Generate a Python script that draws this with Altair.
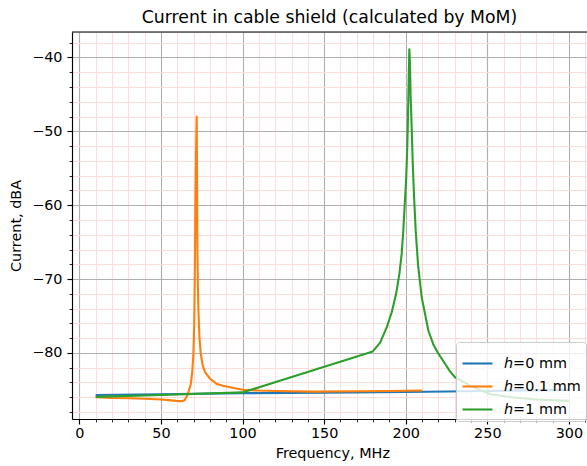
import altair as alt
import pandas as pd

# ---- data ----
series_names = ["ℎ=0 mm", "ℎ=0.1 mm", "ℎ=1 mm"]
series_colors = ["#1f77b4", "#ff7f0e", "#2ca02c"]

freq_h0 = [10, 50, 100, 150, 200, 250, 300]
cur_h0 = [-85.7, -85.6, -85.45, -85.4, -85.3, -85.15, -85.0]

freq_h01 = [10, 20, 30, 40, 50, 55, 59, 62.7, 64.5, 66, 67, 68.3, 69.2, 69.9,
            70.4, 70.7, 71.1, 71.5, 71.9, 72.1, 72.3, 72.6, 73.0, 73.6, 74.4,
            75.5, 77, 80.1, 84.2, 88, 92.3, 100.1, 110, 120, 143, 170, 190, 210]
cur_h01 = [-86.0, -86.1, -86.15, -86.2, -86.3, -86.4, -86.5, -86.55, -86.4,
           -85.8, -85.2, -84.2, -82.5, -80.1, -76.0, -70.0, -60.0, -53.0,
           -48.0, -55.0, -65.0, -70.5, -74.5, -78.0, -80.1, -81.6, -82.6,
           -83.5, -84.2, -84.45, -84.65, -85.0, -85.1, -85.15, -85.25, -85.2,
           -85.15, -85.1]

freq_h1 = [10, 50, 100, 179.8, 184.3, 188.4, 191.4, 194.1, 196.1, 197.5, 198.5,
           199.4, 200.2, 200.8, 201.2, 201.6, 202.2, 202.6, 203.0, 203.7, 204.3,
           205.1, 206.1, 207.5, 209.8, 213.9, 217.0, 220.0, 223.0, 227.1, 230.2,
           240, 252, 265, 280, 300]
cur_h1 = [-85.95, -85.7, -85.35, -79.8, -78.6, -76.5, -74.5, -72.0, -69.3,
          -66.6, -63.45, -59.8, -56.7, -53.1, -49.9, -45.4, -38.9, -40.9,
          -45.4, -49.9, -54.4, -58.9, -63.45, -68.0, -72.5, -77.0, -78.9,
          -80.1, -81.1, -82.5, -83.3, -84.5, -85.6, -86.0, -86.3, -86.5]

x_minor_ticks = list(range(0, 320, 10))
y_minor_ticks = list(range(-88, -36, 2))

rows = []
for name, fs, cs in [(series_names[0], freq_h0, cur_h0),
                     (series_names[1], freq_h01, cur_h01),
                     (series_names[2], freq_h1, cur_h1)]:
    for i, (f, c) in enumerate(zip(fs, cs)):
        rows.append({"series": name, "freq": f, "cur": c, "idx": i})
df = pd.DataFrame(rows)

FONT = "DejaVu Sans"
FS = 14.4
W, H = 515, 387
XPX = 1.632  # px per MHz


def axis_props(step, title, label_pad, title_pad):
    test = f"datum.value % {step} === 0"
    return alt.Axis(
        labelExpr=f"{test} ? datum.label : ''",
        tickSize={"condition": {"test": test, "value": 5}, "value": 2.9},
        tickWidth={"condition": {"test": test, "value": 1.15}, "value": 0.86},
        gridColor={"condition": {"test": test, "value": "#b0b0b0"}, "value": "#ffdcdc"},
        gridWidth={"condition": {"test": test, "value": 1.15}, "value": 1},
        grid=True,
        domainColor="black", domainWidth=1.15, tickColor="black",
        labelFont=FONT, labelFontSize=FS, labelColor="black", labelPadding=label_pad,
        labelFlush=False, labelOverlap=False,
        title=title, titleFont=FONT, titleFontSize=FS,
        titleFontWeight="normal", titleColor="black", titlePadding=title_pad,
    )


x_axis = axis_props(50, "Frequency, MHz", 2.5, 7)
x_axis.values = x_minor_ticks
y_axis = axis_props(10, "Current, dBA", 5, 8)
y_axis.values = y_minor_ticks

lines = alt.Chart(df).mark_line(strokeWidth=2.1, strokeJoin="round").encode(
    x=alt.X("freq:Q", axis=x_axis,
            scale=alt.Scale(domain=[-4.5, 314.5], range=[0, 319 * XPX], nice=False, zero=False)),
    y=alt.Y("cur:Q", axis=y_axis,
            scale=alt.Scale(domain=[-88.95, -36.55], nice=False, zero=False)),
    color=alt.Color("series:N",
                    scale=alt.Scale(domain=series_names, range=series_colors),
                    legend=alt.Legend(
                        title=None, orient="none", legendX=384, legendY=310,
                        symbolType="stroke", symbolSize=900, symbolStrokeWidth=2.1,
                        labelFont=FONT, labelFontSize=FS, labelColor="black",
                        labelOffset=10, rowPadding=-8, padding=5,
                        fillColor="rgba(255,255,255,0.8)", strokeColor="#cccccc",
                        cornerRadius=3)),
    order="idx:Q",
)

top_border = alt.Chart(pd.DataFrame({"a": [0]})).mark_rule(
    color="black", strokeWidth=1.15).encode(
    x=alt.value(0), x2=alt.value(W), y=alt.value(0))

chart = alt.layer(lines, top_border).properties(
    width=W, height=H,
    title=alt.Title("Current in cable shield (calculated by MoM)",
                    font=FONT, fontSize=17.3, fontWeight="normal",
                    color="black", offset=5),
    autosize=alt.AutoSizeParams(type="none"),
    padding={"left": 72, "top": 32, "right": 0, "bottom": 47},
).configure_view(stroke=None).configure(background="white")

chart.save("out.html", embed_options={"renderer": "svg", "actions": False})
